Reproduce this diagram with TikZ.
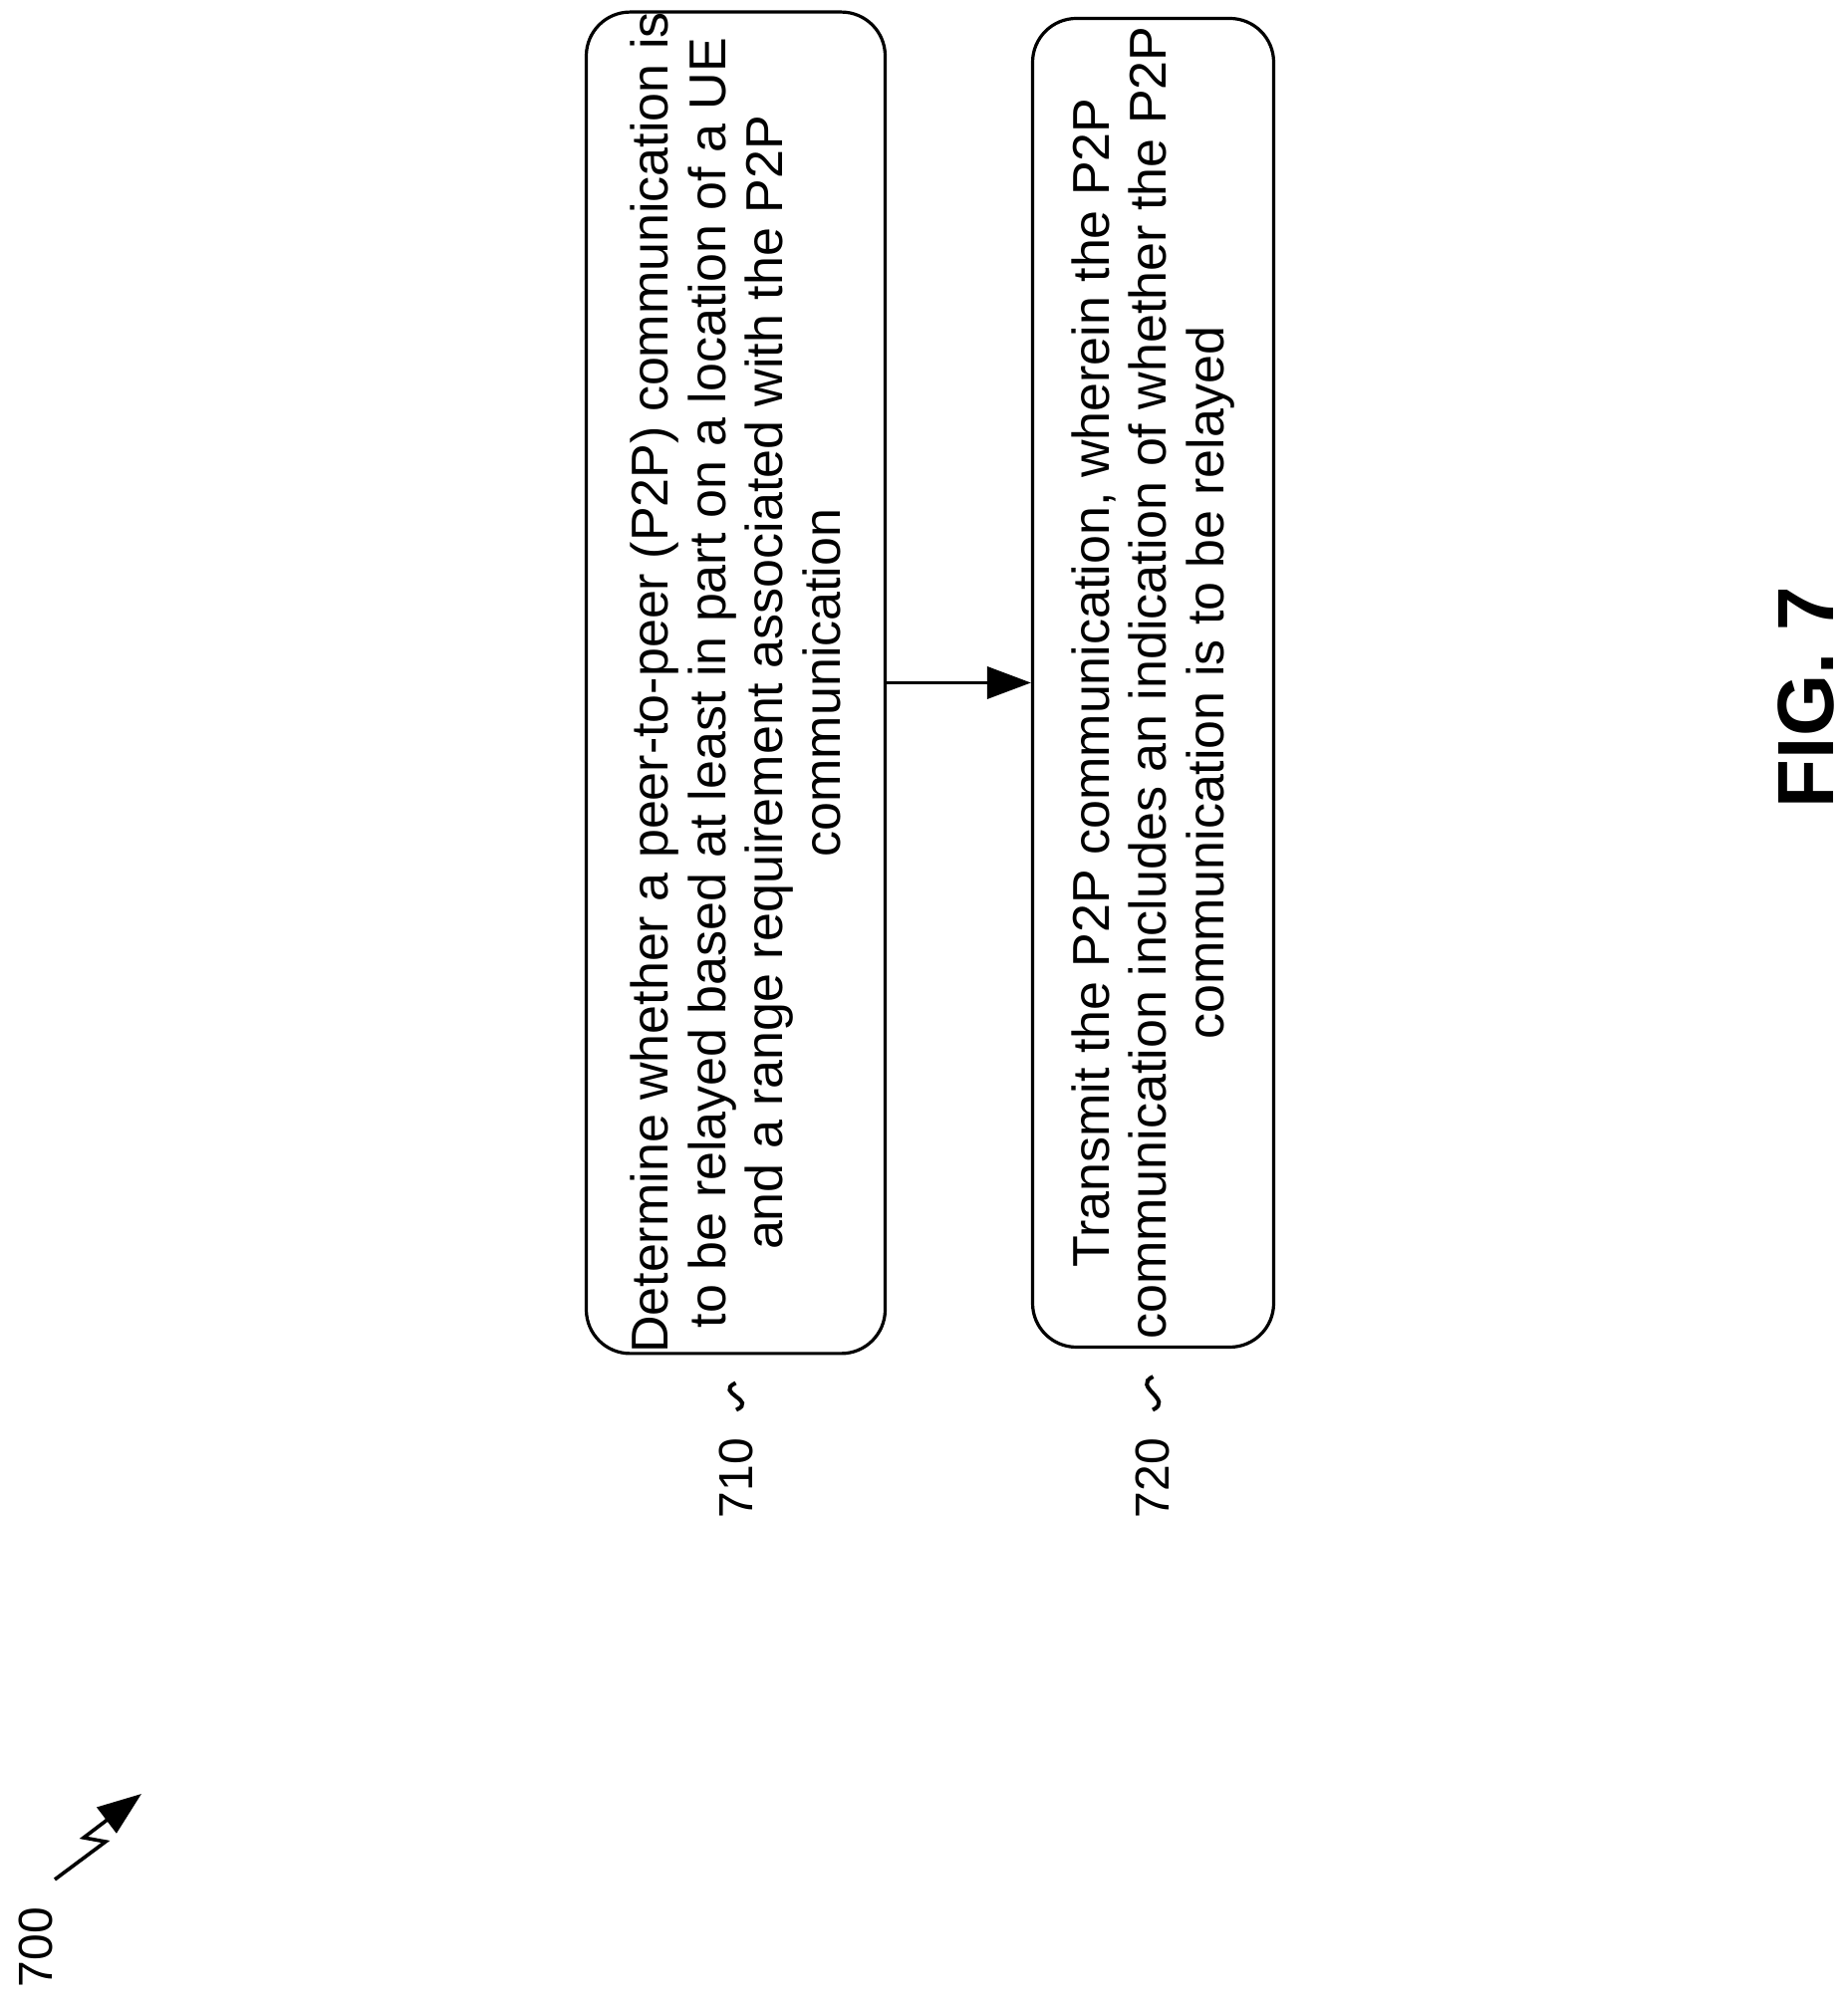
\documentclass[tikz,border=0pt]{standalone}
\usepackage{fontspec}
\setmainfont{Liberation Sans}
\usetikzlibrary{arrows.meta}
\tikzset{
  stepbox/.style={draw, line width=1.6pt, rounded corners=22pt, rotate=90, align=center,
    minimum width=667pt, minimum height=150pt, inner sep=0pt,
    font=\fontsize{26}{28.8}\selectfont},
  reflabel/.style={rotate=90, font=\fontsize{24}{28.8}\selectfont, inner sep=0pt},
  flow/.style={-{Triangle[length=22pt,width=16pt]}, line width=1.8pt}
}
\begin{document}
\begin{tikzpicture}[x=0.5pt,y=0.5pt]
\useasboundingbox (0,0) rectangle (1854,2014);
% steps
\node[stepbox] (b1) at (738.5,1328.5) {Determine whether a peer-to-peer (P2P) communication is\\ to be relayed based at least in part on a location of a UE\\ and a range requirement associated with the P2P\\ communication};
\node[stepbox, minimum height=121pt] (b2) at (1157.5,1328.5) {Transmit the P2P communication, wherein the P2P\\ communication includes an indication of whether the P2P\\ communication is to be relayed};
\draw[flow] (b1.south) -- (b2.north);
% reference numerals
\node[reflabel] (n710) at (739,530) {710};
\node[reflabel] (n720) at (1157,530) {720};
\draw[line width=2pt] (n710.east) ++(0,28) .. controls +(22,10) and +(-22,-10) .. ([yshift=-14]b1.west);
\draw[line width=2pt] (n720.east) ++(0,28) .. controls +(22,10) and +(-22,-10) .. ([yshift=-14]b2.west);
% figure number
\node[reflabel, font=\fontsize{40}{48}\selectfont\bfseries] (fig) at (1813,1314) {FIG. 7};
\node[reflabel] (n700) at (36,59) {700};
\coordinate (z0) at (55,127);
\coordinate (z1) at (106,165);
\coordinate (z2) at (84,169);
\coordinate (z3) at (142,213);
\draw[line width=1.8pt, -{Triangle[length=22pt,width=16pt]}] (z0) -- (z1) -- (z2) -- (z3);
\end{tikzpicture}
\end{document}
